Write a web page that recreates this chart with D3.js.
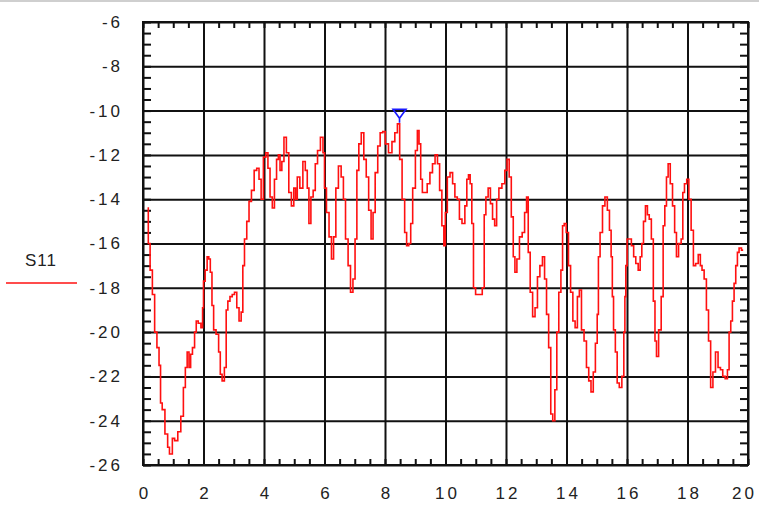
<!DOCTYPE html>
<html><head><meta charset="utf-8">
<script src="https://cdn.jsdelivr.net/npm/d3@7"></script>
<style>
body{margin:0;background:#fff}
svg{display:block}
text{font-family:"Liberation Sans",Arial,sans-serif;fill:#222}
</style>
</head><body>
<svg id="c" width="759" height="508"></svg>
<script>
// ---- data ----
const seriesName = "S11";
const freq = [0.15,0.2,0.27,0.35,0.42,0.5,0.56,0.6,0.67,0.78,0.85,0.9,0.95,0.99,1.1,1.2,1.3,1.37,1.43,1.49,1.55,1.6,1.67,1.74,1.78,1.87,1.96,1.98,2.02,2.09,2.15,2.2,2.25,2.31,2.36,2.47,2.53,2.58,2.65,2.73,2.77,2.84,2.91,2.99,3.06,3.14,3.21,3.28,3.32,3.39,3.47,3.54,3.63,3.72,3.8,3.87,3.94,4.02,4.1,4.16,4.24,4.31,4.38,4.45,4.5,4.56,4.62,4.7,4.78,4.86,4.95,5.02,5.07,5.13,5.24,5.33,5.4,5.46,5.51,5.59,5.66,5.73,5.81,5.92,5.98,6.02,6.11,6.19,6.27,6.33,6.42,6.5,6.6,6.65,6.74,6.82,6.9,6.98,7.04,7.1,7.17,7.26,7.34,7.42,7.5,7.58,7.63,7.72,7.8,7.88,7.97,8.05,8.18,8.28,8.37,8.45,8.52,8.61,8.69,8.74,8.83,8.87,8.96,9.05,9.09,9.16,9.2,9.27,9.35,9.44,9.53,9.61,9.7,9.77,9.84,9.92,9.97,10.02,10.1,10.2,10.27,10.35,10.43,10.49,10.6,10.68,10.73,10.79,10.84,10.9,10.95,11.04,11.17,11.26,11.3,11.37,11.45,11.52,11.59,11.66,11.72,11.81,11.92,12.0,12.07,12.14,12.21,12.27,12.32,12.4,12.49,12.58,12.65,12.71,12.76,12.84,12.92,13.0,13.08,13.16,13.25,13.3,13.38,13.44,13.52,13.57,13.66,13.7,13.79,13.84,13.9,13.95,14.03,14.1,14.17,14.25,14.32,14.4,14.45,14.54,14.62,14.7,14.77,14.85,14.92,14.99,15.04,15.07,15.15,15.23,15.31,15.39,15.45,15.5,15.53,15.58,15.65,15.7,15.79,15.87,15.92,15.94,15.98,16.03,16.1,16.19,16.25,16.33,16.41,16.46,16.52,16.57,16.65,16.7,16.77,16.84,16.9,16.95,17.0,17.09,17.17,17.22,17.28,17.33,17.39,17.47,17.54,17.61,17.66,17.75,17.83,17.86,17.94,18.01,18.08,18.16,18.23,18.31,18.4,18.45,18.51,18.59,18.66,18.73,18.8,18.88,18.97,19.05,19.13,19.2,19.29,19.35,19.4,19.46,19.51,19.57,19.62,19.68,19.73,19.84];
const s11 = [-14.4,-16.0,-17.2,-18.3,-20.0,-20.7,-21.5,-23.2,-23.5,-24.6,-25.2,-25.5,-25.5,-24.8,-24.9,-24.5,-23.8,-22.5,-21.6,-20.9,-21.6,-21.0,-20.7,-20.0,-19.5,-19.6,-19.8,-18.9,-17.7,-17.2,-16.6,-16.7,-17.3,-18.8,-19.9,-20.1,-20.9,-21.9,-22.2,-21.6,-19.0,-18.6,-18.4,-18.3,-18.2,-18.9,-19.5,-19.1,-17.0,-15.8,-15.0,-14.1,-13.6,-12.7,-12.6,-13.1,-14.0,-12.1,-11.9,-12.6,-13.9,-14.4,-13.1,-12.2,-12.0,-12.7,-12.3,-11.2,-11.9,-13.7,-14.3,-13.5,-14.0,-13.0,-13.5,-12.3,-12.7,-13.5,-15.1,-13.9,-13.6,-12.4,-11.8,-11.2,-11.9,-13.5,-14.6,-15.7,-16.7,-15.7,-13.5,-12.5,-13.0,-14.0,-15.8,-17.0,-18.2,-17.6,-15.8,-12.7,-11.5,-11.0,-12.2,-13.0,-14.5,-15.8,-14.6,-12.8,-11.6,-11.0,-10.95,-11.5,-11.9,-11.4,-11.0,-10.6,-12.2,-14.0,-15.5,-16.1,-16.0,-15.1,-13.5,-11.8,-10.9,-11.5,-13.1,-13.7,-13.7,-13.3,-12.8,-12.4,-12.0,-12.4,-13.6,-15.2,-16.1,-14.6,-13.0,-12.8,-13.3,-13.9,-14.0,-14.9,-15.1,-14.3,-13.1,-12.9,-13.3,-15.1,-18.0,-18.3,-18.3,-18.0,-14.7,-13.9,-13.5,-14.2,-14.9,-15.2,-14.0,-13.5,-13.3,-12.7,-12.2,-13.0,-14.8,-16.6,-17.3,-16.7,-15.7,-15.5,-14.6,-13.9,-16.4,-18.2,-19.3,-18.9,-17.5,-17.0,-16.6,-17.6,-19.2,-20.7,-23.7,-24.0,-22.6,-20.0,-18.2,-17.2,-15.2,-15.1,-15.5,-17.0,-18.2,-19.5,-19.8,-18.4,-18.1,-19.9,-20.4,-21.6,-22.2,-22.7,-21.8,-20.5,-19.2,-16.6,-15.5,-14.3,-13.9,-14.5,-15.4,-16.6,-18.4,-19.9,-20.9,-22.3,-22.5,-22.0,-20.0,-18.4,-17.0,-15.8,-15.8,-16.1,-16.6,-16.9,-17.2,-16.6,-16.0,-15.0,-14.3,-14.7,-14.9,-15.8,-18.6,-20.4,-21.1,-19.9,-18.4,-15.2,-14.3,-13.0,-12.4,-13.3,-14.3,-15.5,-16.6,-16.0,-15.8,-13.7,-13.3,-13.1,-14.0,-15.4,-17.0,-16.9,-16.5,-17.0,-17.2,-17.6,-19.0,-20.4,-22.5,-21.8,-20.9,-21.6,-21.7,-22.0,-22.1,-21.7,-20.0,-19.5,-18.6,-17.8,-17.0,-16.4,-16.2,-16.3];
const xTicks = [0,2,4,6,8,10,12,14,16,18,20];
const yTicks = [-6,-8,-10,-12,-14,-16,-18,-20,-22,-24,-26];
const markerFreq = [8.48];
const markerVal = [-10.55];

// ---- drawing ----
const svg = d3.select("#c");
const L = 143, R = 748, T = 22, B = 465;
const x = d3.scaleLinear().domain([0,20]).range([L,R]);
const y = d3.scaleLinear().domain([-6,-26]).range([T,B]);

svg.append("rect").attr("width",759).attr("height",508).attr("fill","#fff");
svg.append("line").attr("x1",0).attr("x2",759).attr("y1",1).attr("y2",1)
  .attr("stroke","#cfcfcf").attr("stroke-width",2);

const minorX = d3.range(0,20.001,0.5);
const minorY = d3.range(-26,-5.999,0.5);

function clean(g){ g.select(".domain").remove(); }

// grid (major)
svg.append("g").attr("transform",`translate(0,${B})`)
  .call(d3.axisBottom(x).tickValues(xTicks).tickSizeInner(-(B-T)).tickSizeOuter(0).tickFormat(""))
  .call(clean).selectAll("line").attr("stroke","#111").attr("stroke-width",2);
svg.append("g").attr("transform",`translate(${L},0)`)
  .call(d3.axisLeft(y).tickValues(yTicks).tickSizeInner(-(R-L)).tickSizeOuter(0).tickFormat(""))
  .call(clean).selectAll("line").attr("stroke","#111").attr("stroke-width",2);

// minor ticks on all four sides (inward)
const tk = (axis, tr) => svg.append("g").attr("transform",tr).call(axis).call(clean)
  .selectAll("line").attr("stroke","#111").attr("stroke-width",2);
tk(d3.axisBottom(x).tickValues(minorX).tickSizeInner(-6).tickSizeOuter(0).tickFormat(""), `translate(0,${B})`);
tk(d3.axisTop(x).tickValues(minorX).tickSizeInner(-6).tickSizeOuter(0).tickFormat(""), `translate(0,${T})`);
tk(d3.axisLeft(y).tickValues(minorY).tickSizeInner(-8).tickSizeOuter(0).tickFormat(""), `translate(${L},0)`);
tk(d3.axisRight(y).tickValues(minorY).tickSizeInner(-8).tickSizeOuter(0).tickFormat(""), `translate(${R},0)`);

// frame
svg.append("rect").attr("x",L).attr("y",T).attr("width",R-L).attr("height",B-T)
  .attr("fill","none").attr("stroke","#111").attr("stroke-width",2);

// labels
const yl = svg.append("g").attr("transform",`translate(${L},0)`)
  .call(d3.axisLeft(y).tickValues(yTicks).tickSize(0).tickPadding(20).tickFormat(d=>d))
  .call(clean);
yl.selectAll("text").attr("font-size",17).attr("letter-spacing","3px").attr("fill","#222")
  .attr("font-family","'Liberation Sans',Arial,sans-serif");
const xl = svg.append("g").attr("transform",`translate(0,${B})`)
  .call(d3.axisBottom(x).tickValues(xTicks).tickSize(0).tickPadding(22).tickFormat(d=>d))
  .call(clean);
xl.selectAll("text").attr("font-size",17).attr("letter-spacing","3px")
  .attr("dx",d=> d===20 ? -4 : 1.5).attr("fill","#222")
  .attr("font-family","'Liberation Sans',Arial,sans-serif");

// series
const pts = freq.map((f,i)=>[f,s11[i]]);
svg.append("path").datum(pts)
  .attr("fill","none").attr("stroke","#ff1010").attr("stroke-width",1.6)
  .attr("stroke-linejoin","miter")
  .attr("d", d3.line().x(d=>x(d[0])).y(d=>y(d[1])).curve(d3.curveStep));

// marker
markerFreq.forEach((f,i)=>{
  const mx = x(f), my = y(markerVal[i]);
  svg.append("path")
    .attr("d",`M${mx-6.5},${my-13.5} L${mx+6.5},${my-13.5} L${mx},${my-4.5} Z M${mx},${my-4.5} L${mx},${my}`)
    .attr("fill","none").attr("stroke","#1a1aff").attr("stroke-width",1.6);
});

// legend
svg.append("text").attr("x",41).attr("y",260).attr("dy","0.35em").attr("text-anchor","middle")
  .attr("font-size",17).attr("letter-spacing","1px").text(seriesName);
svg.append("line").attr("x1",6).attr("x2",77).attr("y1",283).attr("y2",283)
  .attr("stroke","#ff1010").attr("stroke-width",1.6);
</script>
</body></html>
